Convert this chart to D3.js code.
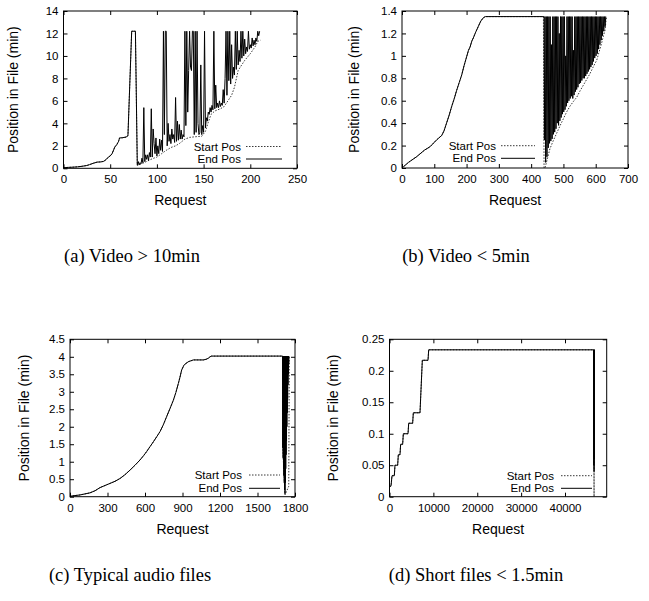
<!DOCTYPE html>
<html>
<head>
<meta charset="utf-8">
<script src="https://cdn.jsdelivr.net/npm/d3@7"></script>
<style>
  body { margin: 0; background: #fff; }
  svg { display: block; }
  .tick text { font-family: "Liberation Sans", Arial, sans-serif; font-size: 11.5px; fill: #000; }
  .tick line { stroke: #000; stroke-width: 1; }
  .axis-title { font-family: "Liberation Sans", Arial, sans-serif; font-size: 14px; fill: #000; }
  .key-label { font-family: "Liberation Sans", Arial, sans-serif; font-size: 11.5px; fill: #000; }
  .caption { font-family: "Liberation Serif", "Times New Roman", serif; font-size: 18.5px; fill: #000; }
  .frame { fill: none; stroke: #000; stroke-width: 1; }
  .start-line { fill: none; stroke: #222; stroke-width: 0.9; stroke-dasharray: 1.5 1.5; }
  .end-line { fill: none; stroke: #000; stroke-width: 1; }
</style>
</head>
<body>
<svg id="chart" width="649" height="601"></svg>
<script>
// tick values
const xTicksA = [0, 50, 100, 150, 200, 250];
const yTicksA = [0, 2, 4, 6, 8, 10, 12, 14];
const xTicksB = [0, 100, 200, 300, 400, 500, 600, 700];
const yTicksB = [0, 0.2, 0.4, 0.6, 0.8, 1, 1.2, 1.4];
const xTicksC = [0, 300, 600, 900, 1200, 1500, 1800];
const yTicksC = [0, 0.5, 1, 1.5, 2, 2.5, 3, 3.5, 4, 4.5];
const xTicksD = [0, 10000, 20000, 30000, 40000];
const yTicksD = [0, 0.05, 0.1, 0.15, 0.2, 0.25];

const captions = ['(a) Video > 10min', '(b) Video < 5min', '(c) Typical audio files', '(d) Short files < 1.5min'];
const keyLabels = ['Start Pos', 'End Pos'];

// (a) sequential part: start == end
const seqA = [[0,0.05],[5,0.08],[10,0.1],[15,0.13],[20,0.18],[25,0.25],[28,0.33],[32,0.45],[36,0.55],[40,0.57],
  [43,0.62],[46,0.8],[48,1.0],[50,1.1],[52,1.3],[54,1.7],[55,1.9],[57,2.1],[59,2.4],[60,2.7],[63,2.72],[67,2.78],
  [69,2.9],[73,12.2],[77,12.2]];
const startTailA = [[79,0.25],[85,0.45],[90,0.65],[95,0.85],[100,1.0],[105,1.3],[110,1.6],[115,1.85],[120,2.0],
  [124,2.2],[130,2.6],[135,2.75],[140,2.8],[148,2.85],[152,3.3],[155,4.1],[158,4.8],[162,5.1],[168,5.3],[172,5.5],
  [176,6.0],[180,6.5],[183,7.2],[187,8.7],[190,9.1],[194,9.6],[200,10.2],[205,10.8],[208,11.3],[211,11.4]];
const endTailA = [[79,0.3],[80,0.6],[81,0.3],[82,0.5],[83,0.4],[84,0.9],[85,0.5],[86,5.4],[87,0.6],[88,1.2],[89,0.8],
  [90,1.2],[91,0.7],[92,1.4],[93,1.0],[94,5.3],[95,1.0],[96,3.5],[97,2.2],[98,1.3],[99,2.7],[100,1.1],[101,2.0],
  [102,1.3],[103,2.6],[104,1.6],[105,2.5],[106,1.5],[107,12.2],[108,3.0],[109,12.2],[110,12.2],[111,2.0],[112,4.0],
  [113,2.4],[114,3.0],[115,2.2],[116,3.5],[117,2.6],[118,3.0],[119,2.3],[120,6.3],[121,2.4],[122,4.2],[123,2.5],
  [124,3.9],[125,2.6],[126,3.4],[127,2.6],[128,3.0],[129,2.8],[130,12.2],[131,3.8],[132,12.2],[133,5.0],[134,8.7],
  [135,12.2],[136,9.0],[137,8.7],[138,12.2],[139,12.2],[140,3.0],[141,12.2],[142,3.2],[143,12.2],[144,4.0],[145,3.0],
  [146,3.2],[147,9.2],[148,3.0],[149,3.8],[150,3.2],[151,12.2],[152,3.6],[153,4.5],[154,4.2],[155,5.0],[156,4.8],
  [157,5.4],[158,5.0],[159,5.6],[160,5.2],[161,12.2],[162,5.3],[163,7.4],[164,5.4],[165,5.8],[166,5.4],[167,6.0],
  [168,5.5],[169,5.8],[170,5.6],[171,7.0],[172,5.8],[173,8.0],[174,12.2],[175,6.5],[176,12.2],[177,7.8],[178,12.2],
  [179,7.5],[180,11.0],[181,8.0],[182,9.0],[183,8.3],[184,12.2],[185,8.8],[186,12.2],[187,9.2],[188,10.5],[189,9.5],
  [190,12.2],[191,9.8],[192,12.2],[193,10.0],[194,11.5],[195,10.2],[196,10.8],[197,10.4],[198,12.2],[199,10.6],
  [200,11.0],[201,10.7],[202,11.6],[203,10.9],[204,11.4],[205,11.0],[206,11.6],[207,11.3],[208,12.2],[209,11.8],[210,12.2]];

// (b)
const seqB = [[0,0],[4,0.01],[20,0.05],[45,0.1],[70,0.16],[87,0.19],[107,0.25],[123,0.29],[130,0.33],[138,0.4],
  [146,0.47],[154,0.55],[162,0.62],[169,0.69],[177,0.76],[185,0.83],[192,0.91],[200,0.99],[206,1.05],[211,1.08],
  [216,1.13],[221,1.16],[228,1.21],[236,1.26],[244,1.31],[252,1.34],[258,1.35],[438,1.35]];
const startTailB = [[440,0.0],[443,0.0],[450,0.08],[458,0.17],[468,0.24],[479,0.31],[490,0.38],[500,0.44],[510,0.5],
  [520,0.55],[530,0.59],[541,0.63],[552,0.69],[562,0.74],[572,0.79],[582,0.84],[592,0.9],[603,0.96],[610,1.03],
  [618,1.11],[624,1.18],[629,1.23],[632,1.32],[634,1.35]];
const endTailB = [[440,1.35],[441,0.25],[443,1.35],[445,0.05],[447,1.35],[449,0.1],[451,1.35],[453,0.18],[455,1.35],
  [457,0.22],[459,1.35],[461,0.24],[463,1.1],[465,0.26],[467,1.35],[469,0.3],[471,1.35],[473,0.32],[475,1.35],
  [477,0.35],[479,1.35],[481,0.4],[483,1.35],[485,0.38],[487,1.2],[489,0.42],[491,1.35],[493,0.45],[495,1.35],
  [497,0.48],[499,1.35],[501,0.5],[503,1.35],[505,0.52],[507,1.0],[509,0.55],[511,1.35],[513,0.58],[515,1.35],
  [517,0.6],[519,1.35],[521,0.62],[523,1.35],[525,0.64],[527,1.35],[529,0.62],[531,1.05],[533,0.65],[535,1.35],
  [537,0.68],[539,1.35],[541,0.7],[543,1.35],[545,0.72],[547,1.35],[549,0.75],[551,1.35],[553,0.76],[555,1.35],
  [557,0.78],[559,1.35],[561,0.8],[563,1.35],[565,0.8],[567,1.35],[569,0.82],[571,1.35],[573,0.84],[575,1.35],
  [577,0.86],[579,1.35],[581,0.88],[583,1.35],[585,0.9],[587,1.35],[589,0.92],[591,1.35],[593,0.95],[595,1.35],
  [597,0.98],[599,1.35],[601,1.0],[603,1.35],[605,1.02],[607,1.35],[609,1.06],[611,1.35],[613,1.1],[615,1.35],
  [617,1.14],[619,1.35],[621,1.18],[623,1.35],[625,1.22],[627,1.35],[629,1.26],[631,1.35],[632,1.35]];

// (c)
const seqC = [[0,0],[13,0.02],[80,0.05],[160,0.11],[200,0.17],[240,0.26],[280,0.32],[320,0.38],[360,0.44],[400,0.52],
  [440,0.63],[480,0.76],[520,0.9],[560,1.05],[590,1.18],[613,1.29],[640,1.43],[667,1.57],[693,1.71],[720,1.86],
  [747,2.06],[773,2.29],[800,2.52],[827,2.76],[847,2.98],[867,3.24],[880,3.42],[893,3.62],[910,3.75],[920,3.79],
  [947,3.86],[987,3.91],[1067,3.91],[1090,3.93],[1107,3.96],[1120,4.0],[1133,4.02],[1701,4.02]];
const startTailC = [[1702,1.4],[1720,0.05],[1750,0.3],[1754,4.02]];
const endTailC = [[1702,1.4],[1703,4.02],[1705,1.1],[1706,4.02],[1708,0.8],[1709,4.02],[1711,0.6],[1712,4.02],
  [1714,0.4],[1715,4.02],[1717,0.2],[1718,4.02],[1720,0.08],[1721,4.02],[1723,0.4],[1724,4.02],[1726,0.8],[1727,4.02],
  [1729,1.2],[1730,4.02],[1732,1.6],[1733,4.02],[1735,2.0],[1736,4.02],[1738,2.4],[1739,4.02],[1741,2.8],[1742,4.02],
  [1744,3.2],[1745,4.02],[1747,3.5],[1748,4.02],[1750,3.8],[1751,4.02]];

// (d)
const seqD = [[0,0.0167],[340,0.0167],[570,0.0333],[1100,0.0333],[1250,0.05],[1860,0.05],[2010,0.0667],[2390,0.0667],
  [2540,0.0833],[3000,0.0833],[3150,0.1],[4220,0.1],[4370,0.1167],[5280,0.1167],[5430,0.1333],[6950,0.1333],
  [7480,0.2167],[8780,0.2167],[8930,0.2333],[46550,0.2333]];
const startTailD = [[46620,0.0],[46640,0.2333]];
const endTailD = [[46580,0.05],[46600,0.2333],[46620,0.04],[46640,0.2333],[46660,0.06],[46680,0.2333],[46700,0.1],[46720,0.2333]];

const panels = [
  { box: [63.5, 297, 11, 168.3], xDomain: [0, 250], xTicks: xTicksA, yDomain: [0, 14], yTicks: yTicksA,
    start: seqA.concat(startTailA), end: seqA.concat(endTailA),
    key: { right: 241, sample: [246, 282], rows: [146.5, 159] }, yTitleX: 13.5, caption: [132, 262] },
  { box: [402, 628, 11, 168], xDomain: [0, 700], xTicks: xTicksB, yDomain: [0, 1.4], yTicks: yTicksB,
    start: seqB.concat(startTailB), end: seqB.concat(endTailB),
    key: { right: 496, sample: [501, 535], rows: [145.7, 158.3] }, yTitleX: 354, caption: [466, 262] },
  { box: [70, 295, 339.3, 496.7], xDomain: [0, 1800], xTicks: xTicksC, yDomain: [0, 4.5], yTicks: yTicksC,
    start: seqC.concat(startTailC), end: seqC.concat(endTailC),
    key: { right: 242, sample: [249, 280], rows: [475, 488.3] }, yTitleX: 24, caption: [130, 581] },
  { box: [389.5, 606.7, 339.3, 496.7], xDomain: [0, 49500], xTicks: xTicksD, yDomain: [0, 0.25], yTicks: yTicksD,
    start: seqD.concat(startTailD), end: seqD.concat(endTailD),
    key: { right: 554, sample: [561, 592], rows: [475.7, 488.3] }, yTitleX: 333, caption: [476, 581] },
];

const svg = d3.select('#chart');
const fmt = d3.format('~g');

panels.forEach((p, i) => {
  const [x0, x1, y0, y1] = p.box;
  const x = d3.scaleLinear().domain(p.xDomain).range([x0, x1]);
  const y = d3.scaleLinear().domain(p.yDomain).range([y1, y0]);
  const g = svg.append('g').attr('class', 'panel');

  // inward ticks on all four sides
  g.append('g').attr('transform', `translate(0,${y1})`)
    .call(d3.axisBottom(x).tickValues(p.xTicks).tickFormat(fmt).tickSizeInner(-4).tickSizeOuter(0).tickPadding(7));
  g.append('g').attr('transform', `translate(0,${y0})`)
    .call(d3.axisTop(x).tickValues(p.xTicks).tickFormat('').tickSizeInner(-4).tickSizeOuter(0));
  g.append('g').attr('transform', `translate(${x0},0)`)
    .call(d3.axisLeft(y).tickValues(p.yTicks).tickFormat(fmt).tickSizeInner(-4).tickSizeOuter(0).tickPadding(5));
  g.append('g').attr('transform', `translate(${x1},0)`)
    .call(d3.axisRight(y).tickValues(p.yTicks).tickFormat('').tickSizeInner(-4).tickSizeOuter(0));
  g.selectAll('.domain').remove();

  const line = d3.line().x(d => x(d[0])).y(d => y(d[1]));

  g.append('path').attr('class', 'start-line').attr('d', line(p.start));
  g.append('path').attr('class', 'end-line').attr('d', line(p.end));

  g.append('rect').attr('class', 'frame')
    .attr('x', x0).attr('y', y0).attr('width', x1 - x0).attr('height', y1 - y0);

  // key
  keyLabels.forEach((label, k) => {
    const ky = p.key.rows[k];
    g.append('text').attr('class', 'key-label')
      .attr('x', p.key.right).attr('y', ky).attr('dy', '0.35em')
      .attr('text-anchor', 'end').text(label);
    g.append('line').attr('class', k === 0 ? 'start-line' : 'end-line')
      .attr('x1', p.key.sample[0]).attr('x2', p.key.sample[1])
      .attr('y1', ky).attr('y2', ky);
  });

  // axis titles
  g.append('text').attr('class', 'axis-title')
    .attr('x', (x0 + x1) / 2).attr('y', y1 + 37)
    .attr('text-anchor', 'middle').text('Request');
  g.append('text').attr('class', 'axis-title')
    .attr('transform', `translate(${p.yTitleX},${(y0 + y1) / 2}) rotate(-90)`)
    .attr('dy', '0.35em').attr('text-anchor', 'middle').text('Position in File (min)');

  svg.append('text').attr('class', 'caption')
    .attr('x', p.caption[0]).attr('y', p.caption[1])
    .attr('text-anchor', 'middle').text(captions[i]);
});
</script>
</body>
</html>
